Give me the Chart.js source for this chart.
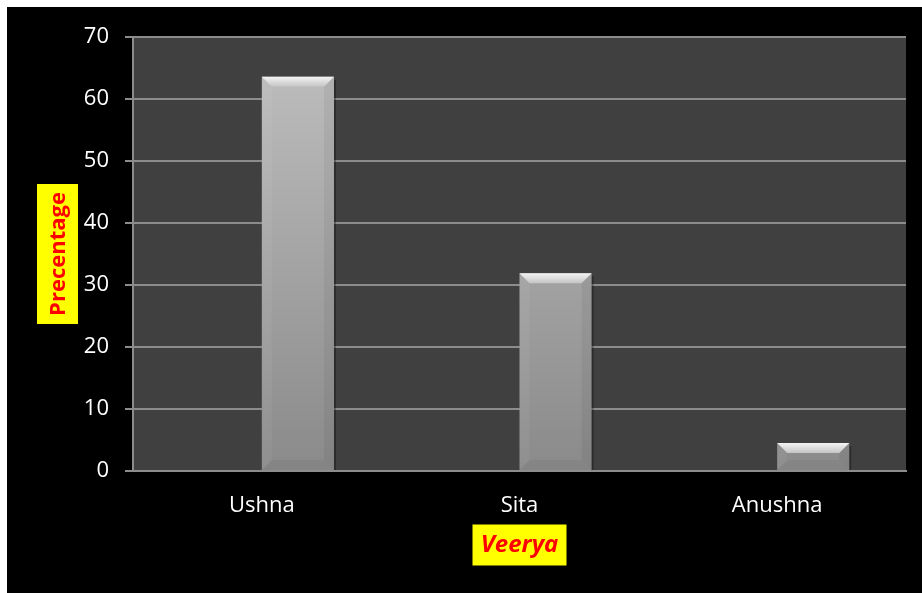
<!DOCTYPE html>
<html>
<head>
<meta charset="utf-8">
<script src="https://cdn.jsdelivr.net/npm/chart.js@4.4.1/dist/chart.umd.min.js"></script>
<style>
  html, body { margin: 0; padding: 0; background: #fff; }
  #wrap { position: absolute; left: 7px; top: 7px; width: 915px; height: 586px; background: #000; }
</style>
</head>
<body>
<div id="wrap"><canvas id="chart"></canvas></div>
<script>
const categories = ["Ushna", "Sita", "Anushna"];
const percentValues = [63.6, 31.9, 4.5];
const yTicks = [0, 10, 20, 30, 40, 50, 60, 70];
const xTitle = "Veerya";
const yTitle = "Precentage";

// yellow-boxed axis titles, drawn in the space kept free by afterFit
const titleBoxes = {
  id: "titleBoxes",
  afterDraw(chart) {
    const { ctx, chartArea } = chart;
    ctx.save();
    // x title
    const cx = (chartArea.left + chartArea.right) / 2;
    const cy = chartArea.bottom + 74;
    ctx.fillStyle = "#ffff00";
    ctx.fillRect(cx - 47, cy - 20.5, 94, 41);
    ctx.fillStyle = "#ff0000";
    ctx.font = "italic bold 24px 'Open Sans'";
    ctx.textAlign = "center";
    ctx.textBaseline = "middle";
    ctx.fillText(xTitle, cx, cy);
    // y title
    const ty = (chartArea.top + chartArea.bottom) / 2;
    const tx = 50.5;
    ctx.fillStyle = "#ffff00";
    ctx.fillRect(tx - 20.5, ty - 70, 41, 140);
    ctx.translate(tx, ty);
    ctx.rotate(-Math.PI / 2);
    ctx.fillStyle = "#ff0000";
    ctx.font = "bold 22px 'Open Sans'";
    ctx.fillText(yTitle, 0, 1);
    ctx.restore();
  }
};

// bevel highlight on top of each bar
const bevel = {
  id: "bevel",
  afterDatasetsDraw(chart) {
    const { ctx } = chart;
    chart.getDatasetMeta(1).data.forEach(bar => {
      const { x, y, base, width } = bar.getProps(["x", "y", "base", "width"], true);
      const l = x - width / 2, r = x + width / 2;
      const b = Math.min(10, (base - y) / 2);
      ctx.save();
      // top face
      let g = ctx.createLinearGradient(0, y, 0, y + b);
      g.addColorStop(0, "#f4f4f4");
      g.addColorStop(1, "#c4c4c4");
      ctx.fillStyle = g;
      ctx.beginPath();
      ctx.moveTo(l, y); ctx.lineTo(r, y); ctx.lineTo(r - b, y + b); ctx.lineTo(l + b, y + b);
      ctx.closePath(); ctx.fill();
      // left face
      ctx.fillStyle = "rgba(255,255,255,0.05)";
      ctx.beginPath();
      ctx.moveTo(l, y); ctx.lineTo(l + b, y + b); ctx.lineTo(l + b, base - b); ctx.lineTo(l, base);
      ctx.closePath(); ctx.fill();
      // right face
      ctx.fillStyle = "rgba(0,0,0,0.05)";
      ctx.beginPath();
      ctx.moveTo(r, y); ctx.lineTo(r - b, y + b); ctx.lineTo(r - b, base - b); ctx.lineTo(r, base);
      ctx.closePath(); ctx.fill();
      // bottom face
      ctx.fillStyle = "rgba(0,0,0,0.04)";
      ctx.beginPath();
      ctx.moveTo(l, base); ctx.lineTo(l + b, base - b); ctx.lineTo(r - b, base - b); ctx.lineTo(r, base);
      ctx.closePath(); ctx.fill();
      // shadow on the right
      ctx.fillStyle = "rgba(0,0,0,0.3)";
      ctx.fillRect(r, y + 3, 2, base - y - 3);
      ctx.restore();
    });
  }
};

const plotBg = {
  id: "plotBg",
  beforeDraw(chart) {
    const { ctx, chartArea } = chart;
    ctx.save();
    ctx.fillStyle = "#404040";
    ctx.fillRect(chartArea.left, chartArea.top, chartArea.right - chartArea.left, chartArea.bottom - chartArea.top);
    ctx.restore();
  }
};

const ctx = document.getElementById("chart").getContext("2d");
new Chart(ctx, {
  type: "bar",
  data: {
    labels: categories,
    datasets: [
      { label: "", data: categories.map(() => null) },
      {
        label: yTitle,
        data: percentValues,
        backgroundColor(c) {
          const area = c.chart.chartArea;
          if (!area) return "#aaaaaa";
          const g = c.chart.ctx.createLinearGradient(0, area.top, 0, area.bottom);
          g.addColorStop(0, "#c0c0c0");
          g.addColorStop(1, "#8a8a8a");
          return g;
        },
        borderWidth: 0,
      },
    ],
  },
  options: {
    responsive: true,
    maintainAspectRatio: false,
    animation: false,
    layout: { padding: { top: 30, right: 16, left: 0, bottom: 0 } },
    datasets: { bar: { categoryPercentage: 0.56, barPercentage: 1 } },
    plugins: { legend: { display: false }, tooltip: { enabled: false } },
    scales: {
      x: {
        grid: { display: false },
        border: { display: true, color: "#8c8c8c", width: 2 },
        ticks: { color: "#ffffff", font: { family: "'Open Sans'", size: 22 }, padding: 14 },
        afterFit(scale) { scale.height = 122; },
      },
      y: {
        min: 0,
        max: 70,
        afterBuildTicks(scale) { scale.ticks = yTicks.map(v => ({ value: v })); },
        grid: { color: "#8c8c8c", lineWidth: 2, tickLength: 8 },
        border: { display: true, color: "#8c8c8c", width: 2 },
        ticks: { color: "#ffffff", font: { family: "'Open Sans'", size: 22 }, padding: 16 },
        afterFit(scale) { scale.width = 126; },
      },
    },
  },
  plugins: [plotBg, bevel, titleBoxes],
});
</script>
</body>
</html>
